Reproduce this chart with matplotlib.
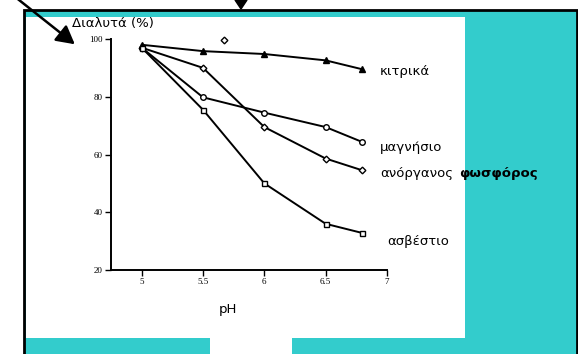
import matplotlib.pyplot as plt
from matplotlib.patches import Rectangle, Polygon

# data
ph = [5, 5.5, 6, 6.5, 6.8]
citrate = [98, 95.8, 94.8, 92.6, 89.5]
magnesium = [97, 79.8, 74.5, 69.5, 64.3]
phosphorus = [97, 90, 69.5, 58.6, 54.5]
calcium = [97, 75.5, 50, 36, 32.8]
stray_ph, stray_val = [5.67], [99.6]

xticks = [5, 5.5, 6, 6.5, 7]
yticks = [20, 40, 60, 80, 100]

W, H = 578, 354
fig = plt.figure(figsize=(W / 100, H / 100), dpi=100)

# background decoration, in pixel coords
bg = fig.add_axes([0, 0, 1, 1], zorder=0)
bg.set_xlim(0, W)
bg.set_ylim(H, 0)
bg.axis('off')
cyan = '#33cccc'
bg.add_patch(Rectangle((24, 10), 553, 350, facecolor=cyan, edgecolor='black', lw=2))
bg.add_patch(Rectangle((25.5, 17), 439, 321, facecolor='white', edgecolor='none'))
bg.add_patch(Rectangle((210, 300), 82, 60, facecolor='white', edgecolor='none'))
# arrows
bg.annotate('', xy=(77, 46), xytext=(14, -4),
            arrowprops=dict(arrowstyle='-|>,head_length=1.1,head_width=0.6', color='black', lw=1.8))
bg.add_patch(Polygon([[235, 0], [247, 0], [241, 9]], closed=True, color='black'))

ax = fig.add_axes([111 / W, (H - 270) / H, 276 / W, 231 / H], zorder=1)
ax.patch.set_alpha(0)
mk = dict(color='black', lw=1.4, markersize=4, markerfacecolor='white',
          markeredgecolor='black', markeredgewidth=1)
ax.plot(ph, citrate, marker='^', **{**mk, 'markerfacecolor': 'black'})
ax.plot(ph, magnesium, marker='o', **mk)
ax.plot(ph, phosphorus, marker='D', **{**mk, 'markersize': 3.4})
ax.plot(ph, calcium, marker='s', **{**mk, 'markersize': 3.6})
ax.plot(stray_ph, stray_val, marker='D', linestyle='none', markersize=3.4,
        markerfacecolor='white', markeredgecolor='black', markeredgewidth=1,
        clip_on=False)

ax.set_xlim(4.75, 7)
ax.set_ylim(20, 100)
ax.set_xticks(xticks)
ax.set_xticklabels(['5', '5.5', '6', '6.5', '7'])
ax.set_yticks(yticks)
for s in ['top', 'right']:
    ax.spines[s].set_visible(False)
for s in ['left', 'bottom']:
    ax.spines[s].set_linewidth(1.4)
ax.tick_params(length=4, width=1, labelsize=6.5, pad=2)
for lbl in ax.get_xticklabels() + ax.get_yticklabels():
    lbl.set_family('Liberation Serif')


def px(x, y):
    return x / W, 1 - y / H


tk = dict(fontsize=9.5, family='DejaVu Sans', va='center', ha='left')
fig.text(*px(72, 24), 'Διαλυτά (%)', **tk)
fig.text(*px(380, 72), 'κιτρικά', **tk)
fig.text(*px(380, 147), 'μαγνήσιο', **tk)
fig.text(*px(380, 174), 'ανόργανος', **tk)
fig.text(*px(459, 174), 'φωσφόρος', fontweight='bold', **tk)
fig.text(*px(387, 242), 'ασβέστιο', **tk)
fig.text(*px(219, 309), 'pH', **tk)

fig.savefig('out.png', dpi=100)
